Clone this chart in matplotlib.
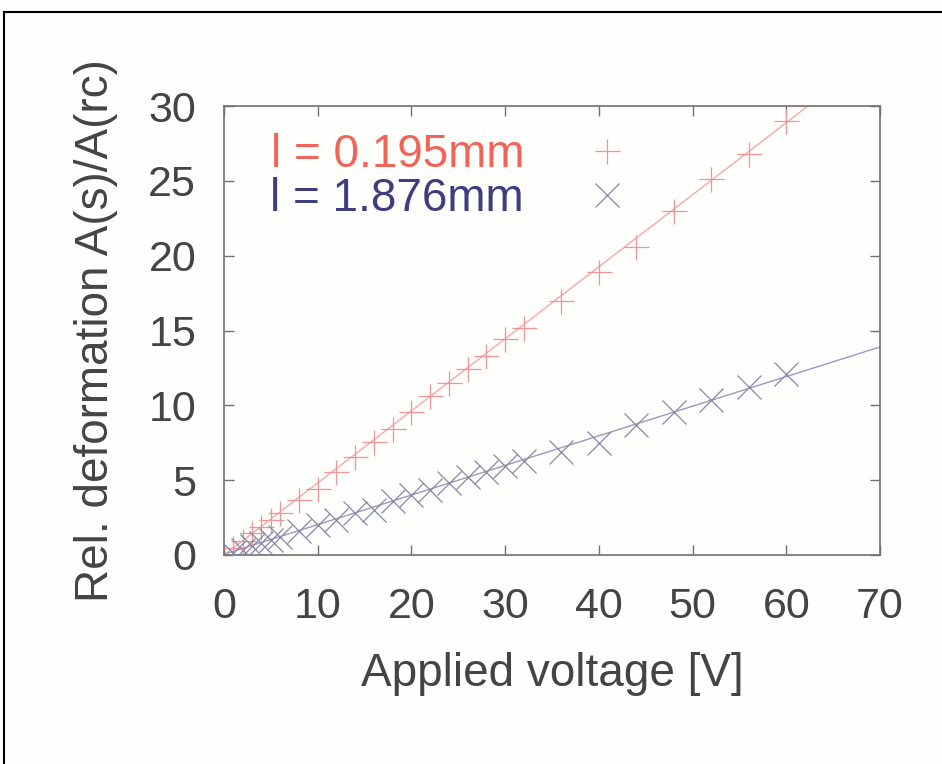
import matplotlib
matplotlib.use("Agg")
import matplotlib.pyplot as plt
from matplotlib.lines import Line2D
import numpy as np

plt.rcParams['font.family'] = ['Liberation Sans', 'DejaVu Sans']

# data
voltage = [1, 2, 3, 4, 5, 6, 8, 10, 12, 14, 16, 18, 20, 22, 24, 26, 28, 30, 32,
           36, 40, 44, 48, 52, 56, 60]
def_thin = [0.5, 0.95, 1.45, 1.9, 2.35, 2.8, 3.65, 4.4, 5.55, 6.55, 7.55, 8.45, 9.55,
            10.6, 11.5, 12.4, 13.3, 14.4, 15.2, 17.0, 18.9, 20.6, 23.0, 25.1, 26.8, 29.0]
def_thick = [0.15, 0.35, 0.6, 0.8, 1.0, 1.2, 1.6, 2.0, 2.35, 2.8, 3.0, 3.6, 4.0,
             4.35, 4.8, 5.2, 5.55, 5.95, 6.3, 6.9, 7.45, 8.7, 9.55, 10.35, 11.2, 12.1]
fit_x = [0, 70]
fit_thin = [0.0, 33.7]
fit_thick = [0.05, 13.9]
labels = ['l = 0.195mm', 'l = 1.876mm']
xticks = [0, 10, 20, 30, 40, 50, 60, 70]
yticks = [0, 5, 10, 15, 20, 25, 30]

bg = '#fefefc'
textc = '#444444'
red_m = '#ee9494'
blue_m = '#8686a6'

fig = plt.figure(figsize=(9.42, 7.64), dpi=100, facecolor=bg)
ax = fig.add_axes([224/942, 1-555/764, (880-224)/942, (555-106)/764])
ax.set_facecolor(bg)

ax.plot(fit_x, fit_thin, color='#f4a8a8', lw=1.0, zorder=2)
ax.plot(fit_x, fit_thick, color='#9a9abe', lw=1.0, zorder=2)
h1, = ax.plot(voltage, def_thin, linestyle='none', marker='+', ms=18, mew=0.9,
              color=red_m, zorder=3, label=labels[0])
h2, = ax.plot(voltage, def_thick, linestyle='none', marker='x', ms=17, mew=0.9,
              color=blue_m, zorder=3, label=labels[1])

ax.set_xlim(0, 70)
ax.set_ylim(0, 30)
ax.set_xticks(xticks)
ax.set_yticks(yticks)
ax.tick_params(direction='in', length=7, width=1, color='#707070', labelsize=31,
               labelcolor=textc, top=True, right=True)
ax.tick_params(axis='x', pad=23)
ax.tick_params(axis='y', pad=20)
for s in ax.spines.values():
    s.set_color('#707070')
    s.set_linewidth(1.2)

ax.set_xlabel('Applied voltage [V]', fontsize=33, color=textc, labelpad=18)
ax.set_ylabel('Rel. deformation A(s)/A(rc)', fontsize=33, color=textc, labelpad=22)

leg = ax.legend(handles=[h1, h2], loc='upper left', bbox_to_anchor=(0.008, 1.031),
                frameon=False, markerfirst=False, fontsize=33,
                handlelength=1.9, handletextpad=0.85, labelspacing=0.0,
                labelcolor=['#f26458', '#3e3e7e'])

# outer frame (left and top edges visible)
fig.add_artist(Line2D([4/942, 4/942], [0, 1-12/764], transform=fig.transFigure,
                      color='black', lw=1.5))
fig.add_artist(Line2D([4/942, 1], [1-12/764, 1-12/764], transform=fig.transFigure,
                      color='black', lw=1.5))

fig.savefig('out.png', dpi=100, facecolor=bg)
